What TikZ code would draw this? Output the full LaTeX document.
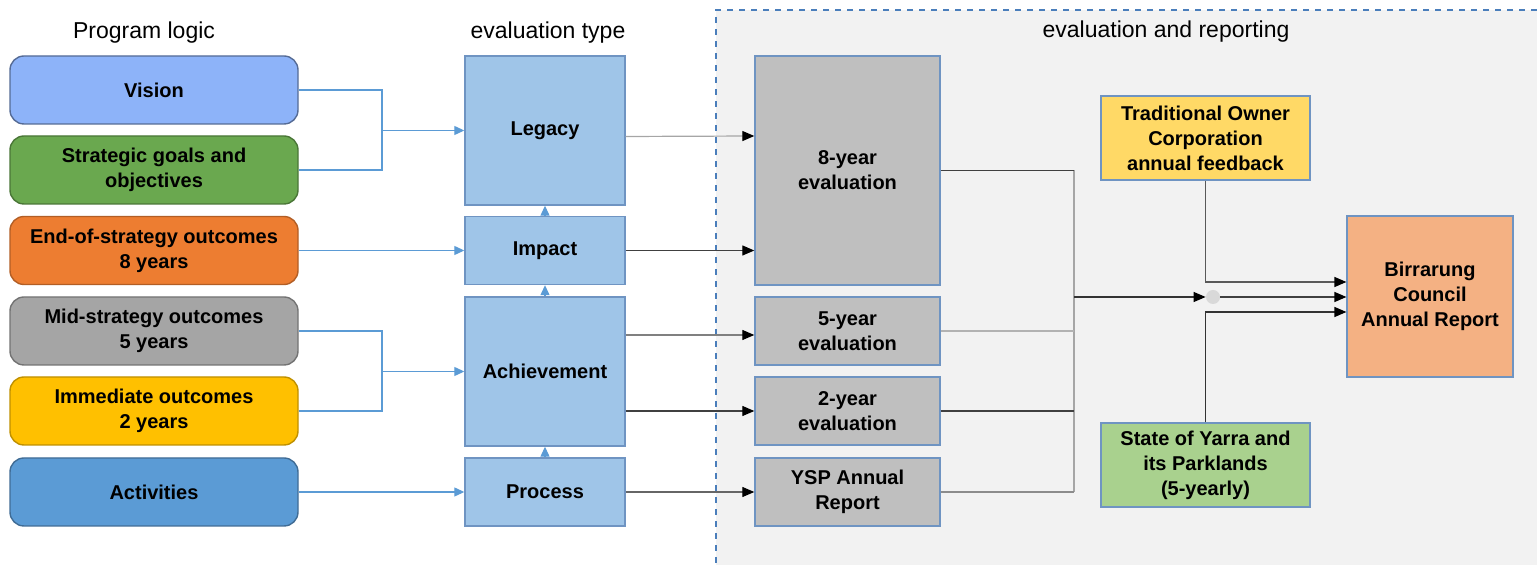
\documentclass[tikz,border=0pt]{standalone}
\usepackage{fontspec}
\setmainfont{Liberation Sans}
\usepackage{tikz}
\usetikzlibrary{positioning,arrows.meta,calc}

\definecolor{cvision}{HTML}{8DB3F9}
\definecolor{cgoals}{HTML}{6AA84F}
\definecolor{cend}{HTML}{ED7D31}
\definecolor{cmid}{HTML}{A5A5A5}
\definecolor{cimm}{HTML}{FFC000}
\definecolor{cact}{HTML}{5B9BD5}
\definecolor{ctype}{HTML}{9FC5E8}
\definecolor{ceval}{HTML}{BFBFBF}
\definecolor{cframe}{HTML}{6F94C2}
\definecolor{ccorp}{HTML}{FFD966}
\definecolor{cyarra}{HTML}{A9D18E}
\definecolor{ccouncil}{HTML}{F4B183}
\definecolor{cpanel}{HTML}{F2F2F2}
\definecolor{cdash}{HTML}{4A7EBB}
\definecolor{clink}{HTML}{5B9BD5}

\begin{document}
\begin{tikzpicture}[x=0.5pt,y=-0.5pt,
    lbl/.style={font=\bfseries\fontsize{10}{12.5}\selectfont,align=center,text=black},
    logic/.style={lbl,rounded corners=7pt,minimum width=144pt,minimum height=34pt,
        inner sep=0pt,line width=0.7pt},
    etype/.style={lbl,fill=ctype,draw=cframe,line width=0.7pt,minimum width=80pt,inner sep=0pt},
    ebox/.style={lbl,fill=ceval,draw=cframe,line width=0.7pt,minimum width=92.5pt,inner sep=0pt},
    rbox/.style={lbl,draw=cframe,line width=0.6pt,inner sep=0pt},
    head/.style={font=\fontsize{11.5}{13}\selectfont},
    bline/.style={clink,line width=0.6pt},
    barrow/.style={bline,-{Triangle[length=5pt,width=4.5pt]}},
    karrow/.style={line width=0.6pt,-{Triangle[length=6pt,width=5pt,black]}},
    kline/.style={line width=0.6pt}
]
\useasboundingbox (0,0) rectangle (1537,565);

% zone evaluation and reporting
\fill[cpanel] (716,10) rectangle (1545,575);
\draw[cdash,dashed,line width=0.6pt] (716,575) -- (716,10) -- (1545,10);

% titres
\node[head] (hlogic) at (144,33) {Program logic};
\node[head] (htype) at (548,33) {evaluation type};
\node[head] (hrep) at (1166,32) {evaluation and reporting};

% program logic
\node[logic,fill=cvision,draw=cvision!60!black] (vision) at (154,90) {Vision};
\node[logic,fill=cgoals,draw=cgoals!70!black] (goals) at (154,170) {Strategic goals and\\objectives};
\node[logic,fill=cend,draw=cend!75!black] (endout) at (154,250.5) {End-of-strategy outcomes\\8 years};
\node[logic,fill=cmid,draw=cmid!70!black] (midout) at (154,331) {Mid-strategy outcomes\\5 years};
\node[logic,fill=cimm,draw=cimm!75!black] (immout) at (154,411) {Immediate outcomes\\2 years};
\node[logic,fill=cact,draw=cact!70!black] (activ) at (154,492) {Activities};

% evaluation type
\node[etype,minimum height=74.5pt] (legacy) at (545,130.5) {Legacy};
\node[etype,minimum height=34pt] (impact) at (545,250.5) {Impact};
\node[etype,minimum height=74.5pt] (achiev) at (545,371.5) {Achievement};
\node[etype,minimum height=34pt] (process) at (545,492) {Process};

% evaluations
\node[ebox,minimum height=114.5pt] (eval8) at (847.5,170.5) {8-year\\evaluation};
\node[ebox,minimum height=34pt] (eval5) at (847.5,331) {5-year\\evaluation};
\node[ebox,minimum height=34pt] (eval2) at (847.5,411) {2-year\\evaluation};
\node[ebox,minimum height=34pt] (ysp) at (847.5,492) {YSP Annual\\Report};

% rapports
\node[rbox,fill=ccorp,minimum width=104.5pt,minimum height=42pt] (tocorp) at (1205.5,138)
    {Traditional Owner\\Corporation\\annual feedback};
\node[rbox,fill=cyarra,minimum width=104.5pt,minimum height=42pt] (yarra) at (1205.5,465)
    {State of Yarra and\\its Parklands\\(5-yearly)};
\node[rbox,fill=ccouncil,minimum width=83pt,minimum height=80.5pt] (council) at (1430,296.5)
    {Birrarung\\Council\\Annual Report};
\node[circle,fill=black!15,minimum size=7pt,inner sep=0pt] (hub) at (1213,297) {};

% liens program logic -> evaluation type
\coordinate (brkA) at (382,130.5);
\coordinate (brkB) at (382,371.5);
\draw[bline] (vision.east) -| (brkA) |- (goals.east);
\draw[barrow] (brkA) -- (legacy.west);
\draw[barrow] (endout.east) -- (impact.west);
\draw[bline] (midout.east) -| (brkB) |- (immout.east);
\draw[barrow] (brkB) -- (achiev.west);
\draw[barrow] (activ.east) -- (process.west);

% petites flèches verticales
\draw[barrow] (impact.north) -- (legacy.south);
\draw[barrow] (achiev.north) -- (impact.south);
\draw[barrow] (process.north) -- (achiev.south);

% evaluation type -> evaluations
\draw[karrow,black!35] ($(legacy.east)+(0,6)$) -- ($(eval8.west)+(0,-34.5)$);
\draw[karrow,black!75] (impact.east) -- (eval8.west |- impact.east);
\draw[karrow,black!50] (achiev.east |- 0,335) -- (eval5.west |- 0,335);
\draw[karrow,black!75] (achiev.east |- eval2.west) -- (eval2.west);
\draw[karrow,black!60] (process.east) -- (ysp.west);

% evaluations -> rapport
\coordinate (busT) at (1074,170.5);
\coordinate (busB) at (1074,492);
\draw[kline,black!35] (busT) -- (busB);
\draw[kline,black!75] (eval8.east) -- (busT);
\draw[kline,black!30] (eval5.east) -- (eval5.east -| busT);
\draw[kline,black!75] (eval2.east) -- (eval2.east -| busT);
\draw[kline,black!45] (ysp.east) -- (busB);
\draw[karrow,black!80] (busT |- hub) -- (hub.west);
\draw[karrow,black!75] (hub.east) -- (council.west |- hub);
\draw[karrow,black!65] (tocorp.south) |- ($(council.west)+(0,-14.5)$);
\draw[karrow,black!80] (yarra.north) |- ($(council.west)+(0,15.5)$);
\end{tikzpicture}
\end{document}
